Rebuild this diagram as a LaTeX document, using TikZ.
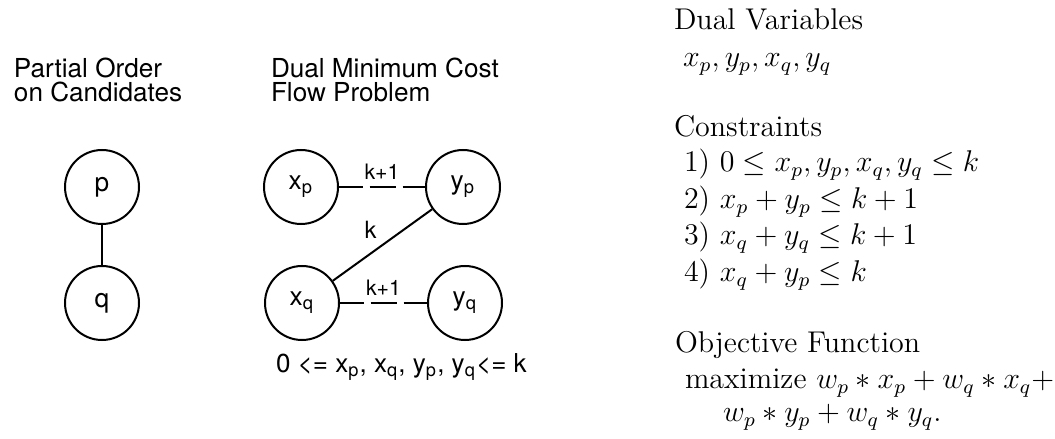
\documentclass[tikz,border=0pt]{standalone}
\usepackage{fontspec}
\newfontfamily\hv{TeX Gyre Heros}
\usetikzlibrary{positioning}
\tikzset{vtx/.style={draw, circle, line width=0.8pt, minimum size=29.6pt, inner sep=0pt, font=\hv\fontsize{10.5}{12}\selectfont},
  ttl/.style={anchor=base west, inner sep=0pt, font=\hv\fontsize{10.45}{12}\selectfont},
  txt/.style={anchor=base west, inner sep=0pt, font=\fontsize{12}{14}\selectfont},
  capedge/.style={dash pattern=on 9.6pt off 2.6pt on 10.4pt off 2.8pt},
  lbl/.style={above, inner sep=2.5pt, font=\hv\fontsize{8.5}{10}\selectfont}}

\begin{document}
\begin{tikzpicture}[x=0.4pt, y=-0.4pt, line width=0.8pt]
  \useasboundingbox (0,0) rectangle (1055,439);
  % partial order
  \node[ttl] (po1) at (13,78) {Partial Order};
  \node[ttl] (po2) at (13,102) {on Candidates};
  \node[vtx] (p) at (102,187) {p};
  \node[vtx] (q) at (102,303) {q};
  \draw (p) -- (q);
  % flow network
  \node[ttl] (mc1) at (270,78) {Dual Minimum Cost};
  \node[ttl] (mc2) at (270,102) {Flow Problem};
  \node[vtx] (xp) at (301,187) {x\textsubscript{p}};
  \node[vtx] (yp) at (463,187) {y\textsubscript{p}};
  \node[vtx] (xq) at (302,303) {x\textsubscript{q}};
  \node[vtx] (yq) at (465,303) {y\textsubscript{q}};
  \draw[capedge] (xp) -- node[lbl] {k+1} (yp);
  \draw[capedge] (xq) -- node[lbl] {k+1} (yq);
  \draw (yp) -- node[above left, inner sep=2pt, font=\hv\fontsize{9.5}{11}\selectfont] {k} (xq);
  \node[anchor=base west, inner sep=0pt, font=\hv\fontsize{10.4}{13}\selectfont] (bnd) at (275,373)
    {0 <= x\textsubscript{p}, x\textsubscript{q}, y\textsubscript{p}, y\textsubscript{q}<= k};
  % dual program
  \node[txt] (dv) at (673,30) {Dual Variables};
  \node[txt] (dvl) at (682,67) {$x_p, y_p, x_q, y_q$};
  \node[txt] (cs) at (673,137) {Constraints};
  \foreach \n/\y/\e in {1/172/{0 \le x_p, y_p, x_q, y_q \le k}, 2/209/{x_p + y_p \le k + 1},
      3/245/{x_q + y_q \le k + 1}, 4/282/{x_q + y_p \le k}}
    \node[txt] (c\n) at (683,\y) {\n) $\e$};
  \node[txt] (of) at (674,353) {Objective Function};
  \node[txt] (ob1) at (684,389) {maximize $w_p * x_p + w_q * x_q+$};
  \node[txt] (ob2) at (722,422) {$w_p * y_p + w_q * y_q$.};
\end{tikzpicture}
\end{document}
